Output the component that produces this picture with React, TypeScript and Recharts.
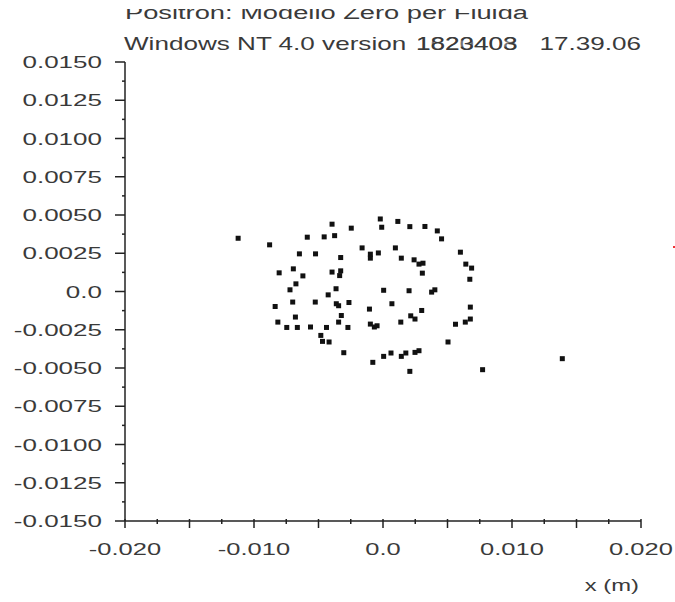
import React from "react";
import { ScatterChart, Scatter, XAxis, YAxis } from "recharts";

// particle positions (m)
const xVals = [
  -0.01123, -0.00879, -0.00587, -0.00648, -0.00523, -0.00805, -0.00695, -0.00621, -0.00675, -0.00721,
  -0.00395, -0.00246, -0.00456, -0.00375, -0.00021, -0.0001, 0.00115, -0.00328, -0.00162, -0.00098,
  -0.00098, -0.00036, 0.00096, 0.00142, -0.00395, -0.00328, -0.00336, -0.00364, -0.00425, 0.00005,
  0.00208, 0.00325, 0.00421, 0.00454, 0.00241, 0.00279, 0.0031, 0.00305, 0.006, 0.00642,
  0.00687, 0.00673, 0.00202, 0.00377, 0.00402, -0.00836, -0.007, -0.00525, -0.00679, -0.00815,
  -0.00746, -0.00664, -0.00562, -0.00362, -0.00344, -0.00264, -0.00323, -0.00344, -0.00438, -0.00272,
  -0.00482, -0.00469, -0.00418, -0.00304, -0.00105, 0.00069, -0.00098, -0.00067, -0.00046, 0.00138,
  0.00005, 0.00062, -0.00079, 0.00142, 0.00177, 0.00248, 0.00279, 0.00677, 0.003, 0.00215,
  0.00248, 0.00562, 0.00638, 0.00677, 0.00504, 0.00208, 0.00772, 0.0139,
];
const yVals = [
  0.00348, 0.00305, 0.00355, 0.00246, 0.00246, 0.00122, 0.00148, 0.00102, 0.0005, 0.00011,
  0.0044, 0.00414, 0.00357, 0.00365, 0.00474, 0.0042, 0.00458, 0.00222, 0.00285, 0.00244,
  0.00218, 0.00252, 0.00285, 0.00218, 0.00127, 0.00135, 0.00104, 0.00018, -0.00022, 0.00008,
  0.00424, 0.00425, 0.00396, 0.00344, 0.00207, 0.00179, 0.00185, 0.0012, 0.00257, 0.00179,
  0.00153, 0.0008, 0.00005, -0.00004, 0.00011, -0.00098, -0.00069, -0.00069, -0.00167, -0.002,
  -0.00235, -0.00235, -0.00232, -0.0008, -0.00093, -0.00072, -0.00157, -0.002, -0.00235, -0.00235,
  -0.00287, -0.00326, -0.0033, -0.004, -0.00115, -0.0008, -0.00213, -0.00232, -0.00224, -0.002,
  -0.00424, -0.00402, -0.00463, -0.00424, -0.00402, -0.00398, -0.00387, -0.00102, -0.00124, -0.00159,
  -0.0018, -0.00214, -0.002, -0.0018, -0.0033, -0.00522, -0.00511, -0.00439,
];

const xTicks = [
  -0.02, -0.0175, -0.015, -0.0125, -0.01, -0.0075, -0.005, -0.0025, 0,
  0.0025, 0.005, 0.0075, 0.01, 0.0125, 0.015, 0.0175, 0.02,
];
const xLabelled = [-0.02, -0.01, 0, 0.01, 0.02];
const xLong = [-0.02, -0.015, -0.01, -0.005, 0, 0.005, 0.01, 0.015, 0.02];

const yLabelled = [
  -0.015, -0.0125, -0.01, -0.0075, -0.005, -0.0025, 0, 0.0025, 0.005, 0.0075, 0.01, 0.0125, 0.015,
];
const yMinor = [
  -0.01375, -0.01125, -0.00875, -0.00625, -0.00375, -0.00125,
  0.00125, 0.00375, 0.00625, 0.00875, 0.01125, 0.01375,
];
const yTicks = [...yLabelled, ...yMinor].sort((a, b) => a - b);

const data = xVals.map((x, i) => ({ x, y: yVals[i] }));

const FONT = "'Liberation Sans', Arial, sans-serif";
const INK = "#3a3a3a";
const near = (a: number, list: number[]) => list.some((v) => Math.abs(v - a) < 1e-7);

const XTick = (props: any) => {
  const { x, y, payload } = props;
  const v = payload.value as number;
  const long = near(v, xLong);
  const label = near(v, xLabelled) ? (v === 0 ? "0.0" : v.toFixed(3)) : null;
  return (
    <g>
      <line x1={x} x2={x} y1={y - 2} y2={y + (long ? 7 : 3)} stroke="#222" strokeWidth={1.5} />
      {label && (
        <text
          transform={`translate(${x},${y + 34}) scale(1.5,1)`}
          textAnchor="middle"
          fontFamily={FONT}
          fontSize={17}
          fill={INK}
        >
          {label}
        </text>
      )}
    </g>
  );
};

const YTick = (props: any) => {
  const { x, y, payload } = props;
  const v = payload.value as number;
  const major = near(v, yLabelled);
  const label = major ? (v === 0 ? "0.0" : v.toFixed(4)) : null;
  return (
    <g>
      <line x1={x - (major ? 10 : 3)} x2={x} y1={y} y2={y} stroke="#222" strokeWidth={1.5} />
      {label && (
        <text
          transform={`translate(${x - 23},${y + 6}) scale(1.53,1)`}
          textAnchor="end"
          fontFamily={FONT}
          fontSize={17}
          fill={INK}
        >
          {label}
        </text>
      )}
    </g>
  );
};

const Dot = (props: any) => {
  const { cx, cy } = props;
  return <rect x={cx - 2.5} y={cy - 2.5} width={5} height={5} fill="#111" />;
};

export default function App() {
  return (
    <div style={{ position: "absolute", left: 0, top: 0, width: 675, height: 602, background: "#fff" }}>
      <ScatterChart width={675} height={602} margin={{ top: 62, right: 34, bottom: 0, left: 0 }}>
        <XAxis
          type="number"
          dataKey="x"
          domain={[-0.02, 0.02]}
          ticks={xTicks}
          interval={0}
          height={81}
          tickSize={0}
          tickMargin={0}
          tickLine={false}
          tick={<XTick />}
          axisLine={{ stroke: "#222", strokeWidth: 1.5 }}
          allowDataOverflow
        />
        <YAxis
          type="number"
          dataKey="y"
          domain={[-0.015, 0.015]}
          ticks={yTicks}
          interval={0}
          width={125}
          tickSize={0}
          tickMargin={0}
          tickLine={false}
          tick={<YTick />}
          axisLine={{ stroke: "#222", strokeWidth: 1.5 }}
          allowDataOverflow
        />
        <XAxis
          xAxisId="top"
          orientation="top"
          type="number"
          domain={[-0.02, 0.02]}
          height={0}
          tick={false}
          tickLine={false}
          axisLine={{ stroke: "#222", strokeWidth: 1.5 }}
        />
        <YAxis
          yAxisId="right"
          orientation="right"
          type="number"
          domain={[-0.015, 0.015]}
          width={0}
          tick={false}
          tickLine={false}
          axisLine={{ stroke: "#222", strokeWidth: 1.5 }}
        />
        <Scatter data={data} shape={<Dot />} isAnimationActive={false} />
      </ScatterChart>
      <svg
        width={675}
        height={602}
        style={{ position: "absolute", left: 0, top: 0, pointerEvents: "none" }}
      >
        <text x={125} y={19} fontFamily={FONT} fontSize={18} fill={INK} textLength={403} lengthAdjust="spacingAndGlyphs">
          Positron: Modello Zero per Fluida
        </text>
        <rect x={0} y={0} width={675} height={9} fill="#fff" />
        <text transform="translate(124,50) scale(1.45,1)" fontFamily={FONT} fontSize={18} fill={INK}>
          Windows NT 4.0 version
        </text>
        <text transform="translate(416,50) scale(1.45,1)" fontFamily={FONT} fontSize={18} fill={INK}>
          1823403
        </text>
        <text transform="translate(416,50) scale(1.45,1)" fontFamily={FONT} fontSize={18} fill={INK} opacity={0.7}>
          1620408
        </text>
        <text transform="translate(641,50) scale(1.45,1)" textAnchor="end" fontFamily={FONT} fontSize={18} fill={INK}>
          17.39.06
        </text>
        <text transform="translate(639,591) scale(1.4,1)" textAnchor="end" fontFamily={FONT} fontSize={17} fill={INK}>
          x (m)
        </text>
        <rect x={673} y={246} width={2} height={2} fill="#e33" />
      </svg>
    </div>
  );
}
